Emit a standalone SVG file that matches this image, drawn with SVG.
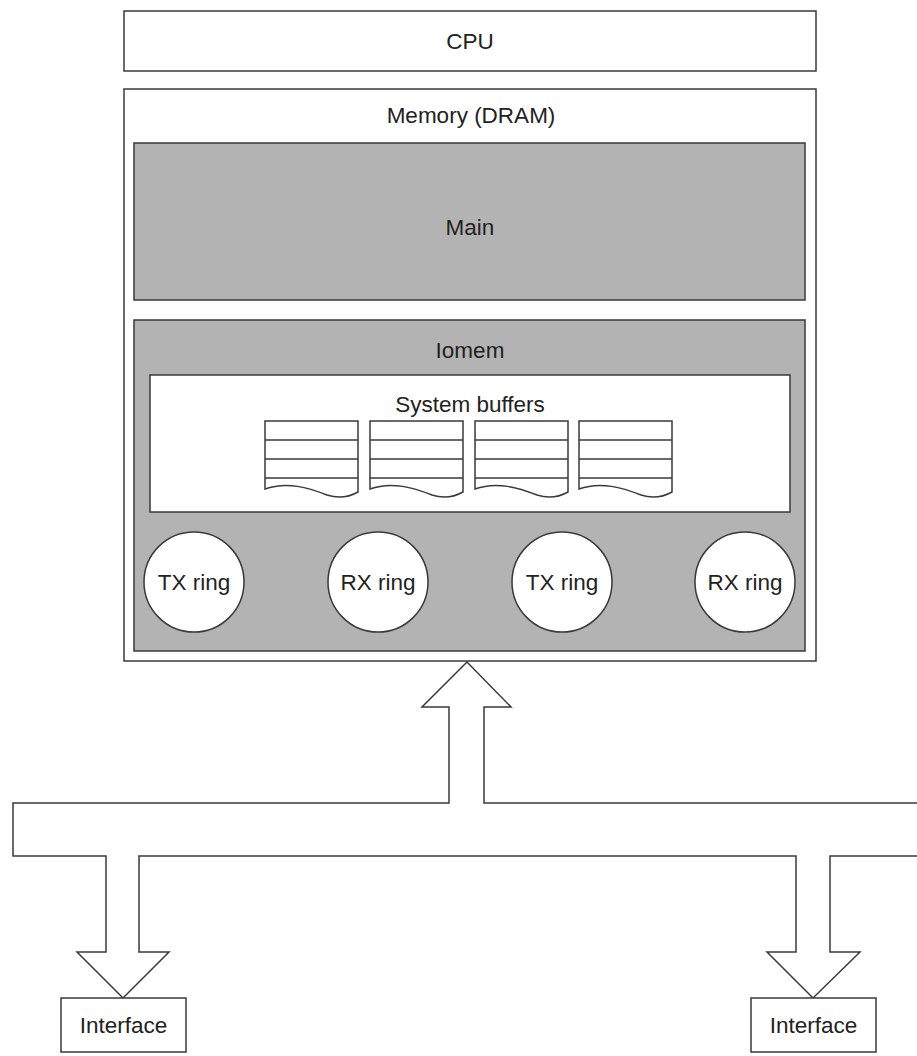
<svg xmlns="http://www.w3.org/2000/svg" width="917" height="1056" viewBox="0 0 917 1056">
<style>
.box{fill:#fff;stroke:#3a3a3a;stroke-width:1.5}
.gray{fill:#b3b3b3;stroke:#3a3a3a;stroke-width:1.5}
.ln{fill:none;stroke:#3a3a3a;stroke-width:1.5}
.t{font-family:"Liberation Sans",Arial,sans-serif;font-size:22.5px;fill:#222;text-anchor:middle;dominant-baseline:central}
</style>
<defs>
<g id="buf">
<path class="box" d="M0,489 V421 H93 V492 C84,497 74,499 62,495 C44,488 22,481 0,489 Z"/>
<path class="ln" d="M0,440 H93 M0,459 H93 M0,478 H93"/>
</g>
</defs>
<rect width="917" height="1056" fill="#fff"/>
<g id="cpu">
<rect class="box" x="124" y="11" width="692" height="60"/>
<text class="t" x="470" y="41">CPU</text>
</g>
<g id="memory">
<rect class="box" x="124" y="89" width="692" height="572"/>
<text class="t" x="471" y="115">Memory (DRAM)</text>
</g>
<g id="main">
<rect class="gray" x="134" y="143" width="671" height="157"/>
<text class="t" x="470" y="227">Main</text>
</g>
<g id="iomem">
<rect class="gray" x="134" y="320" width="671" height="331"/>
<text class="t" x="470" y="350">Iomem</text>
</g>
<g id="system-buffers">
<rect class="box" x="150" y="375" width="640" height="137"/>
<text class="t" x="470" y="404">System buffers</text>
<use href="#buf" x="265"/>
<use href="#buf" x="370"/>
<use href="#buf" x="475"/>
<use href="#buf" x="579"/>
</g>
<g id="tx-ring-1"><circle class="box" cx="194" cy="582" r="50"/><text class="t" x="194" y="582">TX ring</text></g>
<g id="rx-ring-1"><circle class="box" cx="378" cy="582" r="50"/><text class="t" x="378" y="582">RX ring</text></g>
<g id="tx-ring-2"><circle class="box" cx="562" cy="582" r="50"/><text class="t" x="562" y="582">TX ring</text></g>
<g id="rx-ring-2"><circle class="box" cx="745" cy="582" r="50"/><text class="t" x="745" y="582">RX ring</text></g>
<g id="connectors">
<path class="box" d="M925,856 H830 V952 H860 L813,998 L767,952 H796 V856 H139 V952 H169 L123,998 L77,952 H106 V856 H13 V803 H449 V707 H422 L467,662 L511,707 H484 V803 H925"/>
</g>
<g id="interface-1">
<rect class="box" x="61" y="998" width="125" height="54"/>
<text class="t" x="123.5" y="1025">Interface</text>
</g>
<g id="interface-2">
<rect class="box" x="751" y="998" width="125" height="54"/>
<text class="t" x="813.5" y="1025">Interface</text>
</g>
</svg>
